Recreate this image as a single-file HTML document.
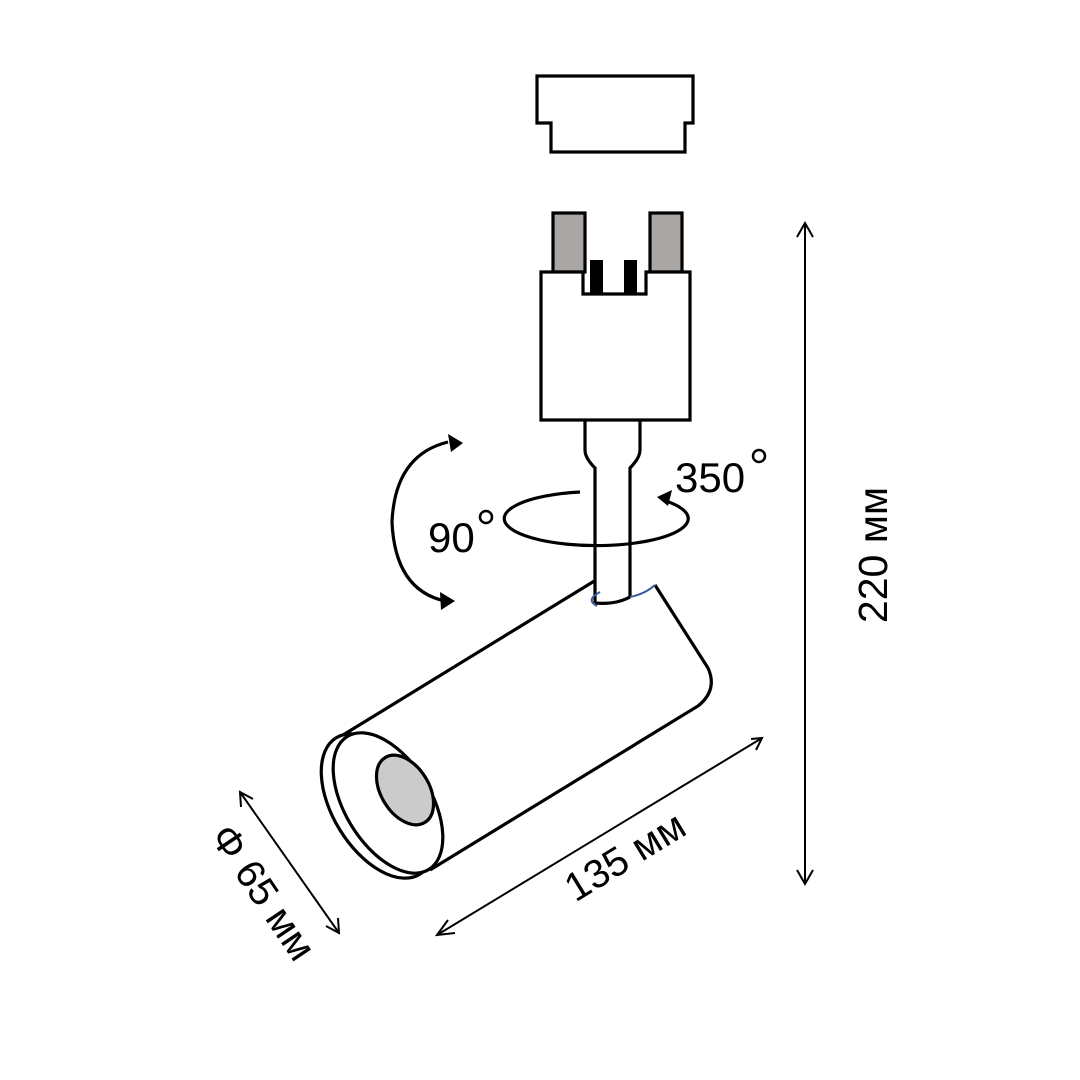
<!DOCTYPE html>
<html><head><meta charset="utf-8"><style>html,body{margin:0;padding:0;background:#fff}svg{display:block}</style></head>
<body>
<svg width="1080" height="1080" viewBox="0 0 1080 1080" xmlns="http://www.w3.org/2000/svg" font-family="Liberation Sans, sans-serif">
<g fill="none" stroke="#000" stroke-width="3.2" stroke-linejoin="miter">
<path d="M537,76 H693 V123 H685 V152 H551 V123 H537 Z" fill="#fff"/>
<rect x="553" y="213" width="32" height="59" fill="#aaa6a4"/>
<rect x="650" y="213" width="32" height="59" fill="#aaa6a4"/>
<path d="M541,272 H583 V294 H646 V272 H690 V420 H541 Z" fill="#fff"/>
<rect x="590" y="260" width="13" height="34" fill="#000" stroke="none"/>
<rect x="624" y="260" width="13" height="34" fill="#000" stroke="none"/>
<path d="M585,420 V450 Q585,458 595,468 V603"/>
<path d="M640,420 V450 Q640,458 630,468 V597"/>
<path d="M580,492 A92,27 0 1,0 663,500"/>
<path d="M596,580 L343,735"/>
<path d="M655,585 L708,668 Q718,690 698,706 L430,870"/>
<path d="M595,603 Q615,605 630,597"/>
<path d="M597,606 Q585,600 600,592 M630,597 Q645,594 655,585" stroke="#3a5a9a" stroke-width="2"/>
<ellipse cx="378" cy="806" rx="80" ry="45" transform="rotate(58.5 378 806)"/>
<ellipse cx="388" cy="803" rx="78" ry="43" transform="rotate(58.5 388 803)" fill="#fff"/>
<ellipse cx="405" cy="790" rx="38" ry="24" transform="rotate(58.5 405 790)" fill="#cbcbcb"/>
<path d="M448,442 Q395,455 392,522 Q395,590 445,601"/>
<g stroke-width="2">
<line x1="805" y1="223" x2="805" y2="884"/>
<path d="M797,237 L805,223 L813,237 M797,870 L805,884 L813,870"/>
<line x1="437" y1="935" x2="762" y2="738"/>
<path d="M448,920 L437,935 L455,933 M751,739 L762,738 L756,750"/>
<line x1="240" y1="792" x2="339" y2="933"/>
<path d="M241,807 L240,792 L253,799 M338,918 L339,933 L326,926"/>
</g>
</g>
<g fill="#000">
<path d="M463,443 L448,434 L451,452 Z"/>
<path d="M455,601 L440,592 L441,610 Z"/>
<path d="M657,497 L672,490 L668,506 Z"/>
</g>
<g font-size="42" fill="#000">
<text x="428" y="552">90</text>
<text x="675" y="492">350</text>
<text transform="translate(887,555) rotate(-90)" text-anchor="middle" font-size="41">220 мм</text>
<text transform="translate(632,868) rotate(-31.5)" text-anchor="middle" font-size="40">135 мм</text>
<text transform="translate(252,900) rotate(56)" text-anchor="middle" font-size="40">Φ 65 мм</text>
</g>
<g fill="none" stroke="#000" stroke-width="2.5">
<circle cx="486" cy="517" r="6"/>
<circle cx="759" cy="456" r="6"/>
</g>
</svg>
</body></html>
